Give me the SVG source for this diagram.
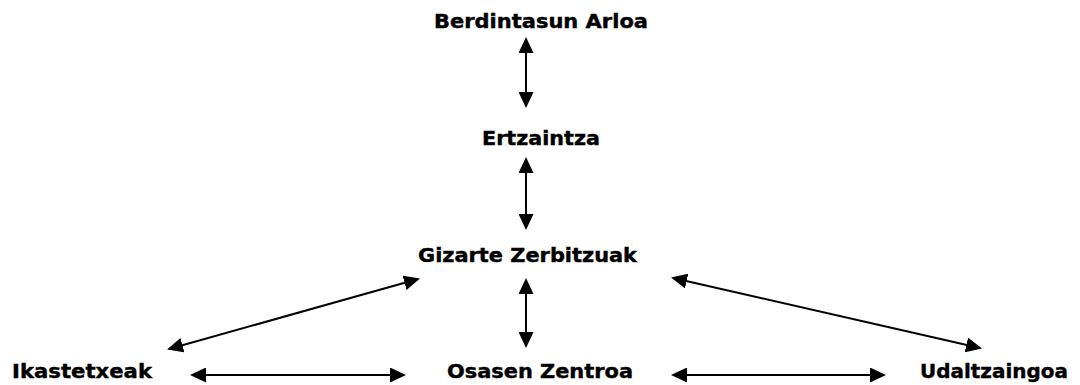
<svg xmlns="http://www.w3.org/2000/svg" width="1080" height="385" viewBox="0 0 1080 385">
<style>
.lbl{font-family:"DejaVu Sans","Liberation Sans",sans-serif;font-weight:bold;font-size:19px;fill:#000;stroke:#000;stroke-width:0.4;text-anchor:middle}
.con{stroke:#000;stroke-width:2;fill:none;marker-start:url(#ah);marker-end:url(#ah)}
</style>
<defs>
<marker id="ah" viewBox="0 0 16 15" refX="14" refY="7.5" markerWidth="16" markerHeight="15" markerUnits="userSpaceOnUse" orient="auto-start-reverse">
<path d="M0,0 L16,7.5 L0,15 z" fill="#000"/>
</marker>
</defs>
<rect width="1080" height="385" fill="#fff"/>
<g id="connectors">
<line class="con" x1="526" y1="39" x2="526" y2="106"/>
<line class="con" x1="526" y1="159" x2="526" y2="228"/>
<line class="con" x1="526" y1="280" x2="526" y2="346"/>
<line class="con" x1="169" y1="349" x2="418" y2="279"/>
<line class="con" x1="673" y1="278" x2="980" y2="348"/>
<line class="con" x1="192" y1="375" x2="404" y2="375"/>
<line class="con" x1="673" y1="375" x2="884" y2="375"/>
</g>
<g id="berdintasun"><text class="lbl" x="541" y="28" textLength="214" lengthAdjust="spacingAndGlyphs">Berdintasun Arloa</text></g>
<g id="ertzaintza"><text class="lbl" x="541" y="145" textLength="118" lengthAdjust="spacingAndGlyphs">Ertzaintza</text></g>
<g id="gizarte"><text class="lbl" x="527.5" y="262" textLength="219" lengthAdjust="spacingAndGlyphs">Gizarte Zerbitzuak</text></g>
<g id="ikastetxeak"><text class="lbl" x="82" y="378" textLength="140" lengthAdjust="spacingAndGlyphs">Ikastetxeak</text></g>
<g id="osasen"><text class="lbl" x="540" y="378" textLength="186" lengthAdjust="spacingAndGlyphs">Osasen Zentroa</text></g>
<g id="udaltzaingoa"><text class="lbl" x="994" y="378" textLength="148" lengthAdjust="spacingAndGlyphs">Udaltzaingoa</text></g>
</svg>
